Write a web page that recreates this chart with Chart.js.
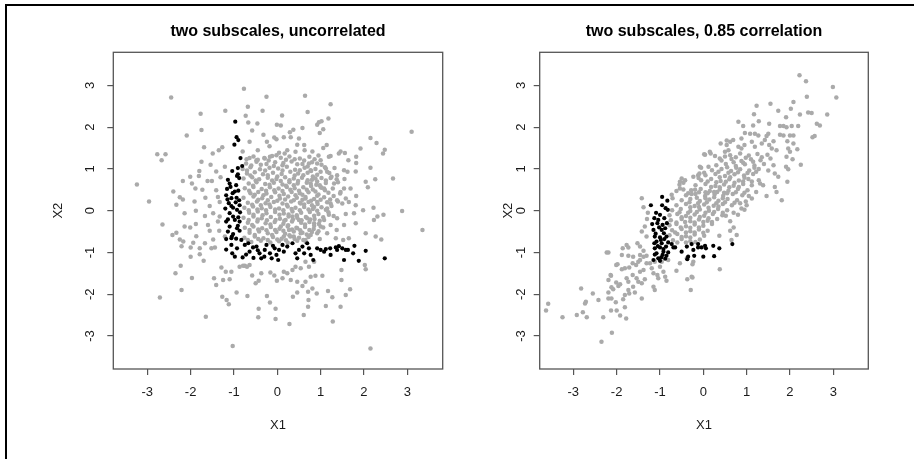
<!DOCTYPE html>
<html>
<head>
<meta charset="utf-8">
<script src="https://cdn.jsdelivr.net/npm/chart.js@4.4.1/dist/chart.umd.min.js"></script>
<style>
    html, body { margin: 0; padding: 0; background: #fff; }
    body { width: 914px; height: 459px; position: relative; overflow: hidden; }
    .frame { position: absolute; left: 5px; top: 4px; right: -10px; bottom: -10px; border-left: 2px solid #000; border-top: 2px solid #000; }
    .panel { position: absolute; top: 0; width: 457px; height: 459px; }
</style>
</head>
<body>
<div class="frame"></div>
<div class="panel" style="left:0"><canvas id="c1"></canvas></div>
<div class="panel" style="left:457px"><canvas id="c2"></canvas></div>
<script>
const titles = ['two subscales, uncorrelated', 'two subscales, 0.85 correlation'];
const xLabel = 'X1';
const yLabel = 'X2';
const xTicks = [-3, -2, -1, 0, 1, 2, 3];
const yTicks = [-3, -2, -1, 0, 1, 2, 3];

// left panel, grey cloud
const leftGray = [
    [-0.77,2.92],[-2.45,2.71],[-0.25,2.73],[-0.68,2.49],[-1.20,2.39],[-1.77,2.32],[-0.34,2.39],[-0.73,2.27],[-0.67,2.11],[-0.46,2.09],
    [-0.01,2.06],[-1.75,1.93],[-2.09,1.80],[-0.58,1.92],[-0.32,1.82],[-0.07,1.75],[-0.64,1.65],[-0.24,1.65],[-0.02,1.71],[-1.69,1.52],
    [-1.27,1.52],[-1.35,1.45],[-1.49,1.37],[-0.80,1.42],[-0.45,1.45],[-0.18,1.54],[-2.77,1.35],[-2.58,1.35],[-2.67,1.21],[-1.75,1.17],
    [-1.54,1.10],[-1.21,1.05],[-0.71,1.23],[-0.64,1.26],[-0.48,1.21],[-0.29,1.25],[-0.17,1.29],[-0.02,1.33],[-1.80,0.95],[-1.41,0.94],
    [-2.01,0.81],[-1.81,0.83],[-2.18,0.71],[-1.97,0.65],[-1.89,0.53],[-1.61,0.71],[-1.51,0.71],[-1.31,0.80],[-3.24,0.63],[-2.40,0.46],
    [-2.96,0.22],[-2.25,0.32],[-2.18,0.27],[-1.73,0.50],[-1.66,0.31],[-1.41,0.49],[-1.37,0.33],[-1.33,0.21],[-2.33,0.14],[-1.91,0.22],
    [-1.56,0.11],
    [0.64,2.75],[1.23,2.55],[0.70,2.36],[0.11,2.28],[1.18,2.21],[0.96,2.12],[1.02,2.14],[0.92,2.06],[0.58,1.98],[0.37,1.94],
    [0.29,1.88],[1.06,1.95],[0.98,1.86],[0.08,2.04],[3.10,1.89],[2.15,1.74],[2.29,1.62],[2.48,1.46],[2.44,1.37],[1.92,1.49],
    [1.82,1.29],[1.64,1.21],[1.56,1.38],[1.46,1.42],[1.42,1.37],[1.14,1.57],[1.06,1.50],[0.81,1.42],[0.62,1.57],[0.63,1.45],
    [0.46,1.58],[0.42,1.41],[0.23,1.45],[0.17,1.37],[0.04,1.39],[0.31,1.76],[0.15,1.76],[0.50,1.73],[1.82,1.14],[1.81,0.94],
    [2.15,1.03],[2.67,0.77],[2.26,0.75],[2.04,0.69],[2.09,0.56],[1.82,0.35],[2.22,0.07],[2.88,-0.01],[1.98,0.01],[1.69,0.53],
    [1.54,0.53],[1.46,0.45],[1.31,0.65],[1.37,0.75],[1.23,0.78],[1.19,1.29],[1.23,1.31],[1.00,1.21],[0.92,1.13],[0.73,1.13],
    [0.77,0.97],[1.12,1.01],[1.15,0.93],[1.54,0.97],[1.62,0.93],[1.38,0.85],[0.88,0.77],[0.77,0.65],[1.00,0.57],[1.08,0.53],
    [1.58,0.29],[1.65,0.21],[1.50,0.17],[1.38,0.25],[1.81,0.13],[1.23,0.17],[1.15,0.05],[0.92,0.21],[0.85,0.09],[0.65,0.29],
    [0.54,0.17],
    [-2.65,-0.33],[-2.71,-2.08],[-1.65,-2.54],[-1.03,-3.24],[-2.21,-1.90],[-2.35,-1.50],[-1.97,-1.61],[-2.23,-1.32],[-1.70,-1.20],[-2.00,-1.10],
    [-1.79,-1.04],[-2.42,-0.58],[-2.33,-0.53],[-2.25,-0.69],[-2.17,-0.74],[-2.21,-0.85],[-2.14,-0.38],[-2.01,-0.40],[-1.88,-0.32],[-1.87,-0.61],
    [-2.14,-0.06],[-1.88,0.00],[-1.67,-0.13],[-2.00,-0.88],[-1.94,-0.77],[-1.79,-0.90],[-1.67,-0.78],[-1.52,-0.90],[-1.44,-0.88],[-1.48,-0.69],
    [-1.56,-0.48],[-1.34,-0.48],[-1.60,-0.34],[-1.37,-0.26],[-1.48,-0.06],[-1.33,-0.14],[-1.21,-0.62],[-1.29,-1.36],[-1.19,-1.46],[-1.06,-1.46],
    [-1.10,-1.64],[-1.25,-1.66],[-1.46,-1.62],[-1.41,-1.78],[-1.27,-2.06],[-1.17,-2.14],[-1.12,-2.24],[-0.94,-1.96],[-0.69,-2.04],[-0.43,-2.35],
    [-0.44,-2.55],[-0.24,-2.04],[-0.17,-2.20],[-0.04,-2.35],[-0.04,-2.59],[-0.87,-1.34],[-0.75,-1.32],[-0.64,-1.30],[-0.58,-1.55],[-0.43,-1.68],
    [-0.50,-1.74],[-0.16,-1.48],[-0.01,-1.68],[-0.07,-1.55],[-0.37,-1.50],[-0.79,-1.32],[-0.70,-1.34],
    [2.45,-0.10],[3.35,-0.46],[2.04,-0.54],[2.27,-0.62],[2.40,-0.69],[2.23,-0.22],[2.31,-0.14],[2.02,-1.30],[2.04,-1.40],[1.48,-1.42],
    [1.48,-1.66],[1.68,-1.88],[1.58,-2.02],[1.46,-2.30],[1.27,-2.07],[1.17,-1.92],[1.12,-2.28],[1.28,-2.65],[2.15,-3.30],[0.91,-1.98],
    [0.81,-1.86],[0.71,-1.94],[0.72,-2.14],[0.71,-2.30],[0.61,-2.50],[0.46,-1.96],[0.36,-2.06],[0.28,-2.71],[1.04,-1.56],[0.88,-1.56],
    [0.77,-1.58],[0.65,-1.70],[0.58,-1.80],[0.46,-1.70],[0.31,-1.66],[0.23,-1.50],[0.12,-1.62],[0.15,-1.46],[0.35,-1.42],[0.42,-1.34],
    [0.54,-1.38],[0.73,-1.34],[0.85,-1.22],[0.65,-1.22],[1.81,-0.30],[1.58,-0.08],[1.65,-0.66],[1.52,-0.70],[1.35,-0.66],[1.37,-0.46],
    [1.15,-0.54],[1.23,-0.34],[1.00,-0.38],[0.92,-0.54],[0.77,-0.58],[0.65,-0.70],[0.54,-0.54],[0.46,-0.42],[0.38,-0.62],[0.27,-0.46],
    [0.15,-0.62],[0.08,-0.38],[0.19,-0.22],[0.35,-0.14],[0.50,-0.22],[0.69,-0.18],[0.85,-0.30],[1.08,-0.22],[1.19,-0.10],[1.38,-0.18],
    [1.54,-0.34],[1.77,-0.06],
    // dense middle of the cloud
    [-0.55,1.30],[-0.30,1.26],[-0.12,1.31],[0.08,1.27],[0.28,1.30],[0.52,1.25],[0.74,1.29],[0.95,1.32],
    [-0.72,1.13],[-0.48,1.17],[-0.25,1.12],[-0.05,1.16],[0.14,1.14],[0.33,1.18],[0.58,1.12],[0.80,1.16],[1.02,1.10],
    [-0.80,1.00],[-0.62,1.04],[-0.40,0.99],[-0.18,1.03],[0.02,1.01],[0.22,1.05],[0.41,0.98],[0.63,1.03],[0.88,1.00],[1.10,1.04],[1.32,1.02],
    [-0.70,0.89],[-0.52,0.92],[-0.33,0.87],[-0.10,0.91],[0.10,0.88],[0.30,0.93],[0.48,0.89],[0.70,0.91],[0.92,0.86],[1.20,0.90],
    [-0.78,0.77],[-0.58,0.80],[-0.42,0.75],[-0.22,0.79],[-0.02,0.76],[0.18,0.80],[0.38,0.77],[0.57,0.79],[0.80,0.74],[1.02,0.78],[1.25,0.81],[1.55,0.76],
    [-0.66,0.65],[-0.48,0.68],[-0.28,0.64],[-0.08,0.67],[0.12,0.63],[0.28,0.68],[0.47,0.65],[0.68,0.67],[0.90,0.62],[1.12,0.66],[1.40,0.68],
    [-0.75,0.54],[-0.55,0.57],[-0.36,0.52],[-0.17,0.56],[0.03,0.53],[0.22,0.57],[0.40,0.54],[0.60,0.56],[0.82,0.51],[1.02,0.55],[1.28,0.53],
    [-0.62,0.42],[-0.44,0.45],[-0.25,0.41],[-0.05,0.44],[0.15,0.40],[0.33,0.45],[0.52,0.42],[0.72,0.44],[0.95,0.39],[1.18,0.43],[1.45,0.41],
    [-0.78,0.31],[-0.55,0.34],[-0.35,0.30],[-0.14,0.33],[0.06,0.29],[0.25,0.34],[0.45,0.31],[0.65,0.33],[0.85,0.28],[1.08,0.32],[1.30,0.35],
    [-0.68,0.19],[-0.47,0.22],[-0.27,0.18],[-0.08,0.21],[0.12,0.17],[0.32,0.22],[0.52,0.19],[0.72,0.21],[0.93,0.16],[1.15,0.20],[1.40,0.22],
    [-0.76,0.07],[-0.56,0.10],[-0.36,0.06],[-0.16,0.09],[0.04,0.05],[0.24,0.10],[0.42,0.07],[0.62,0.09],[0.82,0.04],[1.02,0.08],[1.25,0.11],
    [-0.65,-0.05],[-0.45,-0.02],[-0.25,-0.06],[-0.05,-0.03],[0.15,-0.07],[0.35,-0.02],[0.55,-0.05],[0.75,-0.03],[0.95,-0.08],[1.18,-0.04],
    [-0.78,-0.17],[-0.55,-0.14],[-0.36,-0.18],[-0.15,-0.15],[0.06,-0.19],[0.26,-0.14],[0.46,-0.17],[0.66,-0.15],[0.86,-0.20],[1.06,-0.16],[1.30,-0.13],
    [-0.68,-0.29],[-0.46,-0.26],[-0.27,-0.30],[-0.06,-0.27],[0.14,-0.31],[0.34,-0.26],[0.55,-0.29],[0.74,-0.27],[0.96,-0.32],
    [-0.75,-0.41],[-0.55,-0.38],[-0.35,-0.42],[-0.15,-0.39],[0.05,-0.43],[0.24,-0.38],[0.44,-0.41],[0.64,-0.39],[0.84,-0.44],[1.06,-0.40],
    [-0.64,-0.53],[-0.42,-0.50],[-0.22,-0.54],[-0.02,-0.51],[0.18,-0.55],[0.38,-0.50],[0.58,-0.53],[0.80,-0.51],
    [-0.76,-0.65],[-0.52,-0.62],[-0.32,-0.66],[-0.10,-0.63],[0.10,-0.67],[0.30,-0.62],[0.50,-0.65],[0.72,-0.63],[0.98,-0.68],
    [-0.60,-0.75],[-0.38,-0.72],[-0.16,-0.76],[0.04,-0.73],[0.24,-0.77],[0.46,-0.72],[0.66,-0.75],
    [-0.60,1.08],[-0.38,1.10],[-0.08,1.07],[0.12,1.09],[0.46,1.11],[0.70,1.06],
    [-0.62,0.84],[-0.22,0.85],[0.00,0.82],[0.40,0.84],[0.60,0.85],[0.82,0.82],
    [-0.56,0.60],[-0.18,0.62],[0.20,0.60],[0.38,0.61],[0.78,0.59],[0.98,0.61],
    [-0.52,0.38],[-0.32,0.37],[0.05,0.36],[0.42,0.37],[0.58,0.38],[0.92,0.36],
    [-0.58,0.14],[-0.38,0.13],[-0.18,0.15],[0.22,0.14],[0.62,0.15],[0.80,0.13],
    [-0.55,-0.10],[-0.34,-0.11],[0.05,-0.10],[0.26,-0.09],[0.45,-0.11],[0.85,-0.12],
    [-0.58,-0.34],[-0.16,-0.33],[0.25,-0.35],[0.64,-0.33],[0.85,-0.36],
    [-0.52,-0.58],[-0.12,-0.58],[0.28,-0.59],[0.68,-0.57],
    [-0.45,1.22],[-0.20,1.20],[0.20,1.22],[0.40,1.23],[0.62,1.20],[0.86,1.23],
    [-0.70,0.96],[-0.28,0.96],[0.12,0.96],[0.52,0.97],[0.78,0.95],[1.00,0.93],
    [-0.50,0.72],[-0.12,0.72],[0.08,0.71],[0.28,0.73],[0.48,0.71],[0.70,0.73],[0.92,0.70],[1.12,0.72],
    [-0.65,0.48],[-0.26,0.48],[-0.07,0.49],[0.12,0.47],[0.30,0.50],[0.50,0.48],[0.68,0.50],[0.88,0.46],[1.10,0.49],
    [-0.44,0.26],[-0.22,0.25],[0.00,0.24],[0.18,0.27],[0.38,0.25],[0.58,0.26],[0.78,0.24],[1.00,0.26],[1.22,0.27],
    [-0.66,0.01],[-0.46,0.03],[-0.26,0.01],[-0.05,0.03],[0.14,0.01],[0.33,0.04],[0.52,0.01],[0.72,0.03],[0.92,0.00],[1.12,0.02],
    [-0.66,-0.22],[-0.45,-0.21],[-0.24,-0.23],[-0.04,-0.22],[0.16,-0.24],[0.36,-0.21],[0.56,-0.23],[0.76,-0.21],[0.98,-0.24],
    [-0.64,-0.46],[-0.44,-0.45],[-0.25,-0.47],[-0.05,-0.46],[0.14,-0.48],[0.34,-0.45],[0.53,-0.47],[0.74,-0.46],[0.95,-0.49],
    [-0.68,-0.70],[-0.44,-0.68],[-0.22,-0.70],[0.00,-0.69],[0.20,-0.71],[0.40,-0.68],[0.60,-0.70]
];

// left panel, black points: the L-shaped band near -1
const leftBlack = [
    [-0.97,2.13],[-0.94,1.76],[-0.90,1.69],[-0.99,1.58],[-0.85,1.26],[-0.91,1.02],[-0.81,1.07],[-1.04,0.95],[-0.91,0.87],[-0.88,0.78],
    [-0.93,0.83],[-1.14,0.74],[-1.10,0.65],[-1.08,0.57],[-0.95,0.61],[-0.98,0.46],[-1.18,0.37],[-1.15,0.27],[-1.06,0.30],[-0.94,0.31],
    [-0.88,0.25],[-1.06,0.11],[-1.02,0.07],[-0.87,0.13],[-0.93,0.02],[-1.16,0.52],[-1.03,0.42],[-0.90,0.48],[-1.12,0.18],[-0.96,0.20],
    [-1.20,0.05],[-0.86,-0.04],
    [-1.10,-0.06],[-1.02,-0.14],[-1.14,-0.21],[-0.98,-0.22],[-1.18,-0.26],[-0.90,-0.16],[-0.87,-0.26],[-1.10,-0.38],[-0.93,-0.42],[-0.91,-0.36],
    [-1.14,-0.50],[-1.02,-0.56],[-0.87,-0.48],[-1.05,-0.62],
    [-1.18,-0.68],[-1.06,-0.66],[-0.95,-0.67],[-0.83,-0.70],[-1.18,-0.93],[-1.06,-0.82],[-1.04,-1.02],[-0.98,-1.10],[-0.93,-0.90],[-0.75,-0.82],
    [-0.67,-0.78],[-0.64,-0.98],[-0.56,-0.88],[-0.48,-0.86],[-0.41,-1.02],[-0.37,-1.14],[-0.29,-0.94],[-0.25,-0.82],[-0.17,-1.02],[-0.13,-1.14],
    [-0.06,-0.90],[-0.02,-1.06],[0.02,-1.18],[-0.80,-1.12],[-0.72,-1.05],[-0.55,-1.13],[-0.45,-0.95],[-0.30,-1.10],[-0.10,-0.84],
    [0.04,-0.94],[0.12,-0.82],[0.15,-0.98],[0.23,-0.86],[0.35,-0.78],[0.42,-1.02],[0.46,-1.14],[0.50,-0.94],[0.58,-0.86],[0.62,-1.02],
    [0.69,-0.78],[0.73,-0.90],[0.77,-1.06],[0.83,-1.18],[0.92,-0.90],[1.00,-0.94],[1.08,-0.98],[1.12,-0.92],[1.22,-0.90],[1.23,-1.06],
    [1.35,-0.88],[1.38,-0.94],[1.42,-0.85],[1.50,-0.90],[1.54,-1.18],[1.58,-0.94],[1.63,-0.94],[1.75,-1.02],[1.78,-0.84],[1.88,-1.20],
    [2.04,-0.96],[2.48,-1.14]
];

// right panel, grey cloud
const rightGray = [
    [-3.63,-2.39],[-3.58,-2.23],[-3.25,-2.55],[-2.92,-2.50],[-2.78,-2.43],[-2.69,-2.55],[-2.82,-1.86],[-2.55,-1.98],[-2.71,-2.18],[-2.73,-2.22],
    [-2.42,-2.14],[-2.31,-2.55],[-2.35,-3.14],[-2.11,-2.92],[-2.13,-2.39],[-2.00,-2.39],[-1.92,-2.51],[-1.78,-2.58],[-1.81,-2.31],[-2.02,-2.19],
    [-2.19,-2.10],[-2.12,-2.10],[-2.19,-1.96],[-2.08,-1.88],[-2.12,-1.83],[-1.96,-1.80],[-1.92,-1.76],[-1.81,-2.02],[-1.85,-2.12],[-1.73,-1.90],
    [-1.71,-1.98],[-1.58,-1.96],[-1.62,-1.82],[-1.42,-2.10],[-2.19,-1.66],[-2.14,-1.54],[-2.01,-1.30],[-1.88,-1.40],[-1.81,-1.38],[-1.71,-1.36],
    [-1.77,-1.62],[-1.73,-1.70],[-1.63,-1.54],[-1.54,-1.62],[-1.50,-1.70],[-1.42,-1.74],[-1.35,-1.64],[-1.46,-1.46],[-1.38,-1.42],[-1.63,-1.26],
    [-1.55,-1.30],[-1.46,-1.18],[-1.38,-1.10],[-1.31,-1.26],[-1.19,-1.38],[-1.15,-1.50],[-1.15,-1.82],[-1.12,-1.90],[-1.00,-1.34],[-1.06,-1.54],
    [-1.04,-1.62],[-0.92,-1.46],[-0.88,-1.58],[-0.85,-1.68],[-1.12,-1.22],[-0.96,-1.22],[-0.81,-1.18],[-0.62,-1.44],[-0.54,-1.26],[-0.37,-1.64],
    [-0.27,-1.58],[-0.29,-1.90],[-0.23,-1.22],[-0.25,-1.28],[-0.38,-1.14],[-2.23,-1.00],[-2.19,-1.00],[-1.88,-1.06],[-1.73,-1.08],[-1.46,-1.06],
    [-1.31,-1.08],[-1.86,-0.90],[-1.77,-0.82],[-1.73,-0.88],[-1.98,-1.28],[-2.13,-1.56],[-2.01,-1.72],[-1.42,0.30],[-1.38,0.08],[-1.52,-0.78],
    [-1.42,-0.50],[-1.35,-0.38],[-1.31,-0.62],[-1.46,-0.86],[-1.38,-0.96],[-1.62,-1.10],[-1.50,-1.22],[-1.23,-1.26],[-1.30,-0.20],[-1.28,-0.05],
    [0.02,1.35],[-0.05,1.03],[-0.12,0.85],[0.02,0.91],[-0.46,0.51],[-0.55,0.62],[-0.62,0.47],[-0.73,0.38],[-0.71,0.30],[-0.35,0.42],
    [-0.27,0.40],[-0.19,0.50],[-0.54,0.69],[-0.46,0.67],[-0.09,0.89],[0.12,1.05],[0.17,1.37],[0.40,1.61],[0.54,1.68],[0.81,2.13],
    [0.37,-0.60],[0.38,-1.40],[-0.25,-1.60],[0.62,-0.48],[0.77,-0.58],[0.65,-0.70],
    [2.22,3.24],[2.37,3.10],[2.99,2.96],[3.07,2.71],[2.39,2.73],[2.86,2.30],[2.62,2.08],[2.69,2.04],[2.52,1.76],[2.57,1.79],
    [2.42,2.35],[2.50,2.34],[2.23,2.30],[2.08,2.60],[2.02,2.44],[1.91,2.24],[1.73,2.39],[1.55,2.56],[1.23,2.51],[1.17,2.31],
    [1.28,2.14],[1.15,2.04],[0.92,2.03],[0.96,1.86],[1.08,1.84],[1.19,1.84],[1.27,1.80],[1.52,2.08],[1.77,2.03],[1.85,2.03],
    [1.92,2.00],[2.04,2.03],[2.19,2.03],[1.50,1.84],[1.46,1.79],[1.77,1.82],[1.85,1.80],[2.00,1.80],[2.08,1.80],[1.94,1.66],
    [2.08,1.61],[2.17,1.47],[1.96,1.49],[2.00,1.41],[1.92,1.29],[2.06,1.23],[2.25,1.10],[1.91,1.05],[1.96,0.99],[1.94,0.69],
    [1.81,0.25],[1.69,0.45],[1.65,0.57],[1.73,0.81],[1.65,0.89],[1.62,1.09],[1.69,1.45],[1.58,1.49],[1.52,1.57],[1.62,1.66],
    [1.42,1.69],[1.35,1.61],[0.62,1.65],[0.69,1.69],[0.54,1.57],[0.81,1.53],[0.88,1.49],[0.95,1.57],[1.12,1.65],[1.19,1.53],
    [0.88,1.73],[0.04,1.34],[0.15,1.41],[0.27,1.31],[0.38,1.25],[0.50,1.41],[0.58,1.45],[-0.08,1.05],[-0.23,0.81],[-0.11,0.78],
    [-0.50,0.77],[-0.54,0.53],[-0.42,0.73],[1.46,0.35],[1.38,0.61],[1.31,0.65],[1.22,0.45],[1.12,0.29],[1.00,0.13],[0.88,0.05],
    [0.62,-0.25],[0.80,-0.10],[0.95,0.02],[0.70,-0.40],[0.52,-0.12],[1.05,0.35],[0.98,0.22],[0.70,-0.05],[0.85,0.18],
    // dense middle along the diagonal
    [0.62,1.33],[0.85,1.37],[1.05,1.32],[1.25,1.36],[1.48,1.34],
    [0.42,1.20],[0.65,1.24],[0.88,1.19],[1.10,1.23],[1.32,1.21],[1.55,1.25],
    [0.30,1.09],[0.52,1.12],[0.75,1.07],[0.96,1.11],[1.18,1.08],[1.40,1.12],
    [0.20,0.97],[0.42,1.00],[0.64,0.95],[0.85,0.99],[1.06,0.96],[1.28,1.00],[1.50,0.96],
    [0.05,0.85],[0.28,0.88],[0.50,0.83],[0.72,0.87],[0.94,0.84],[1.15,0.88],
    [-0.05,0.73],[0.18,0.76],[0.40,0.71],[0.60,0.75],[0.82,0.72],[1.04,0.76],[1.28,0.73],
    [-0.18,0.61],[0.05,0.64],[0.28,0.59],[0.48,0.63],[0.70,0.60],[0.92,0.64],[1.12,0.61],
    [-0.28,0.49],[-0.06,0.52],[0.15,0.47],[0.38,0.51],[0.58,0.48],[0.80,0.52],[1.02,0.49],
    [-0.40,0.37],[-0.18,0.40],[0.04,0.35],[0.26,0.39],[0.46,0.36],[0.68,0.40],[0.90,0.37],
    [-0.50,0.25],[-0.30,0.28],[-0.08,0.23],[0.14,0.27],[0.35,0.24],[0.56,0.28],[0.78,0.25],
    [-0.62,0.13],[-0.40,0.16],[-0.20,0.11],[0.02,0.15],[0.24,0.12],[0.45,0.16],[0.66,0.13],
    [-0.72,0.01],[-0.52,0.04],[-0.30,-0.01],[-0.08,0.03],[0.13,0.00],[0.34,0.04],[0.55,0.01],
    [-0.78,-0.11],[-0.60,-0.08],[-0.40,-0.13],[-0.20,-0.09],[0.02,-0.12],[0.22,-0.08],[0.44,-0.11],
    [-0.75,-0.23],[-0.50,-0.20],[-0.30,-0.25],[-0.10,-0.21],[0.10,-0.24],[0.32,-0.20],
    [-0.78,-0.35],[-0.62,-0.32],[-0.40,-0.37],[-0.20,-0.33],[0.00,-0.36],[0.20,-0.32],
    [-0.72,-0.47],[-0.50,-0.44],[-0.30,-0.49],[-0.10,-0.45],[0.10,-0.48],
    [-0.78,-0.59],[-0.60,-0.56],[-0.40,-0.61],[-0.20,-0.57],[0.02,-0.60],
    [-0.70,-0.71],[-0.50,-0.68],[-0.30,-0.73],[-0.08,-0.69],
    [0.75,1.28],[0.98,1.27],[0.55,1.04],[0.76,1.03],[1.18,1.03],[0.38,0.80],[0.62,0.80],[0.95,0.79],[0.18,0.57],[0.38,0.56],
    [0.60,0.56],[0.82,0.57],[0.05,0.44],[0.25,0.45],[0.48,0.43],[-0.15,0.31],[0.05,0.30],[0.25,0.32],[0.45,0.30],[-0.30,0.08],
    [-0.10,0.09],[0.12,0.07],[0.35,0.10],[-0.50,-0.16],[-0.30,-0.17],[-0.08,-0.15],[0.12,-0.18],[-0.52,-0.40],[-0.30,-0.41],[-0.10,-0.40],
    [-0.50,-0.63],[-0.30,-0.64],
    [0.50,1.30],[0.70,1.16],[0.92,1.15],[1.15,1.17],[1.35,1.28],
    [0.35,0.93],[0.58,0.91],[0.80,0.92],[1.02,0.90],[1.22,0.93],
    [0.10,0.70],[0.30,0.68],[0.52,0.69],[0.72,0.67],[0.92,0.70],[1.12,0.70],
    [-0.10,0.44],[0.10,0.42],[0.32,0.45],[0.55,0.42],[0.75,0.44],[0.95,0.43],
    [-0.32,0.20],[-0.12,0.18],[0.08,0.20],[0.30,0.18],[0.50,0.20],[0.72,0.19],
    [-0.55,-0.04],[-0.35,-0.05],[-0.15,-0.03],[0.05,-0.05],[0.25,-0.03],[0.45,-0.05],
    [-0.62,-0.28],[-0.42,-0.27],[-0.20,-0.28],[0.00,-0.27],[0.20,-0.27],
    [-0.65,-0.52],[-0.40,-0.52],[-0.20,-0.52],[0.00,-0.53],
    [-0.60,-0.76],[-0.40,-0.76],[-0.18,-0.75]
];

// right panel, black points
const rightBlack = [
    [-0.95,0.33],[-1.21,0.13],[-0.83,0.24],[-0.95,0.13],[-0.82,0.02],[-0.87,0.06],[-1.09,-0.05],[-1.13,-0.18],[-1.04,-0.22],[-1.06,-0.30],
    [-0.94,-0.34],[-1.15,-0.46],[-0.96,-0.46],[-0.91,-0.54],[-1.12,-0.62],[-1.00,-0.64],[-0.85,-0.62],[-1.08,-0.74],[-0.96,-0.78],[-0.81,-0.76],
    [-1.12,-0.90],[-1.00,-0.88],[-0.86,-0.86],[-0.69,-0.88],[-1.08,-1.02],[-0.94,-1.06],[-0.81,-1.00],[-1.15,-1.18],[-1.04,-1.14],[-0.50,-0.98],
    [-0.38,-0.86],[-0.35,-1.10],[-0.23,-0.94],[-0.12,-0.88],[0.00,-1.10],[0.06,-0.90],[-0.97,-1.12],[-0.85,-1.08],[-0.92,-0.92],[-1.13,-0.78],
    [-0.65,-0.88],[-0.73,-0.80],[-0.37,-1.16],[-0.21,-1.08],[0.04,-0.84],[-0.04,-0.88],[-0.12,-0.80],[0.23,-0.84],[0.25,-1.09],[0.37,-0.90],
    [0.67,-0.80],[-0.27,-0.80],[-1.02,-0.40],[-0.88,-0.42],[-1.10,-0.55],[-0.98,-0.70],[-0.90,-0.68],[-1.05,-0.85],[-0.92,-0.98],[-1.12,-1.05],
    [-0.88,-1.15],[-1.00,-1.20],[-0.84,-0.30],[-1.18,-0.32],[-1.00,-0.10],[-0.90,-0.18]
];

const font = 'Liberation Sans, Arial, Helvetica, sans-serif';
const ink = '#1a1a1a';
const frameColor = '#555';

const boxPlugin = {
    id: 'box',
    afterDraw(chart) {
        const { ctx, chartArea: a } = chart;
        ctx.save();
        ctx.strokeStyle = frameColor;
        ctx.lineWidth = 1.3;
        ctx.strokeRect(a.left, a.top, a.right - a.left, a.bottom - a.top);
        ctx.restore();
    }
};

function toPoints(arr) {
    return arr.map(p => ({ x: p[0], y: p[1] }));
}

function makePanel(id, title, gray, black, g) {
    const axisGrid = { drawOnChartArea: false, drawTicks: true, tickLength: 6, color: frameColor, lineWidth: 1.2 };
    return new Chart(document.getElementById(id), {
        type: 'scatter',
        data: {
            datasets: [
                { data: toPoints(gray), backgroundColor: '#aaaaaa', pointRadius: 2.25, borderWidth: 0, order: 2 },
                { data: toPoints(black), backgroundColor: '#000000', pointRadius: 2.1, borderWidth: 0, order: 1 },
            ],
        },
        options: {
            responsive: true,
            maintainAspectRatio: false,
            animation: false,
            events: [],
            layout: { padding: { left: 0, right: g.padRight, top: 0, bottom: 0 } },
            plugins: {
                legend: { display: false },
                tooltip: { enabled: false },
                title: {
                    display: true,
                    text: title,
                    fullSize: false,
                    color: '#000',
                    font: { family: font, size: 16, weight: 'bold', lineHeight: 1 },
                    padding: { top: 24, bottom: 12.3 },
                },
            },
            scales: {
                x: {
                    type: 'linear',
                    min: g.xMin,
                    max: g.xMax,
                    afterBuildTicks: s => { s.ticks = xTicks.map(v => ({ value: v })); },
                    afterFit: s => { s.height = 90; },
                    grid: axisGrid,
                    border: { display: false },
                    ticks: { color: ink, font: { family: font, size: 13 }, padding: 10, maxRotation: 0 },
                    title: { display: true, text: xLabel, color: ink, font: { family: font, size: 13, lineHeight: 1 }, padding: { top: 0, bottom: 26.8 } },
                },
                y: {
                    type: 'linear',
                    min: -3.79,
                    max: 3.792,
                    afterBuildTicks: s => { s.ticks = yTicks.map(v => ({ value: v })); },
                    afterFit: s => { s.width = g.yWidth; },
                    grid: axisGrid,
                    border: { display: false },
                    ticks: { color: ink, font: { family: font, size: 13 }, padding: g.yTickPad, minRotation: 90, maxRotation: 90, crossAlign: 'center' },
                    title: { display: true, text: yLabel, color: ink, font: { family: font, size: 13, lineHeight: 1 }, padding: { top: g.yTitlePad, bottom: 0 } },
                },
            },
        },
        plugins: [boxPlugin],
    });
}

makePanel('c1', titles[0], leftGray, leftBlack,
    { padRight: 14.3, xMin: -3.785, xMax: 3.817, yWidth: 113.3, yTickPad: 11.5, yTitlePad: 51.8 });
makePanel('c2', titles[1], rightGray, rightBlack,
    { padRight: 45.7, xMin: -3.776, xMax: 3.808, yWidth: 82.7, yTickPad: 6.9, yTitlePad: 44.5 });
</script>
</body>
</html>
